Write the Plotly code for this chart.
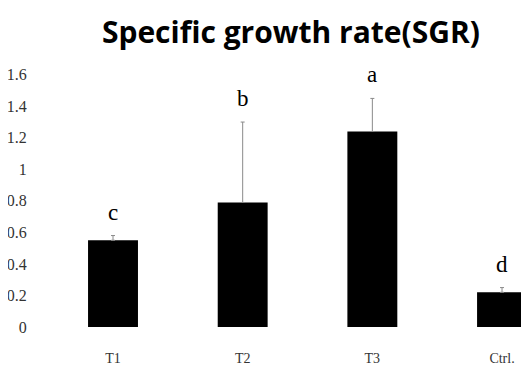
import plotly.graph_objects as go

categories = ["T1", "T2", "T3", "Ctrl."]
sgr_mean = [0.55, 0.79, 1.24, 0.22]
sgr_err_up = [0.03, 0.51, 0.21, 0.03]
sig_letters = ["c", "b", "a", "d"]
y_ticks = [0, 0.2, 0.4, 0.6, 0.8, 1.0, 1.2, 1.4, 1.6]
y_tick_text = ["0", "0.2", "0.4", "0.6", "0.8", "1", "1.2", "1.4", "1.6"]

fig = go.Figure()
fig.add_trace(go.Bar(
    x=categories,
    y=sgr_mean,
    width=0.385,
    marker=dict(color="black", line=dict(color="black", width=0)),
    error_y=dict(type="data", symmetric=False, array=sgr_err_up,
                 arrayminus=[0] * len(sgr_mean),
                 color="#8a8a8a", thickness=1, width=2),
))

for c, m, e, t in zip(categories, sgr_mean, sgr_err_up, sig_letters):
    fig.add_annotation(x=c, y=m + e, text=t, showarrow=False,
                       yanchor="bottom", yshift=9,
                       font=dict(family="Liberation Serif", size=23, color="black"))

fig.update_layout(
    width=521, height=357,
    margin=dict(l=32, r=0, t=51, b=38),
    plot_bgcolor="white", paper_bgcolor="white",
    showlegend=False,
    title=dict(text="<b>Specific growth rate(SGR)</b>", x=0.543, xanchor="center",
               y=0.93, yanchor="middle",
               font=dict(family="Open Sans", size=30, color="black")),
    xaxis=dict(type="category", range=[-0.563, 3.208], showline=False,
               showgrid=False, ticks="outside", ticklen=18,
               tickcolor="rgba(0,0,0,0)",
               tickfont=dict(family="Liberation Serif", size=14, color="#333")),
    yaxis=dict(range=[0, 1.7], tickvals=y_ticks, ticktext=y_tick_text,
               showgrid=False, showline=False, zeroline=False,
               ticks="outside", ticklen=9, tickcolor="rgba(0,0,0,0)",
               tickfont=dict(family="Liberation Serif", size=16, color="#333")),
)

fig.write_html("out.html")
